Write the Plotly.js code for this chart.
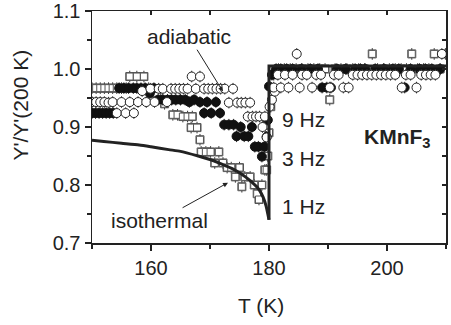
<!DOCTYPE html>
<html>
<head>
<meta charset="utf-8">
<script src="https://cdn.plot.ly/plotly-3.0.1.min.js"></script>
<style>
  html, body { margin: 0; padding: 0; background: #fff; }
  #chart { width: 451px; height: 325px; }
</style>
</head>
<body>
<div id="chart"></div>
<script>
// Normalised susceptibility Y'/Y'(200 K) of KMnF3 around the 180 K transition

// 9 Hz (open circles)
const circ9T = [150.0, 150.7, 151.4, 152.1, 152.8, 153.5, 154.2, 155.0, 155.7, 156.4, 157.1, 157.8,
  158.5, 159.2, 159.9, 160.6, 161.3, 162.0, 162.7, 163.4, 164.1, 164.8, 165.5, 166.2, 166.9, 167.6,
  168.3, 169.0, 169.7, 170.4, 171.1, 171.8, 172.5, 173.2, 173.9, 174.6, 175.3, 176.0, 176.4, 176.8,
  177.2, 177.8, 178.4, 178.9, 179.3, 179.6, 180.1, 180.5, 181.0,
  180.8, 181.5, 182.0, 182.7, 183.3, 184.0, 184.7, 185.2, 185.6, 186.4, 187.3, 188.0, 188.8, 190.3,
  191.0, 191.8, 192.6, 193.5, 194.2, 195.0, 195.8, 196.6, 197.4, 198.2, 199.0, 199.8, 200.6, 201.4,
  202.5, 203.2, 204.0, 205.0, 205.8, 206.6, 207.4, 208.2, 209.3];
const circ9Y = [0.943, 0.943, 0.943, 0.943, 0.942, 0.943, 0.924, 0.943, 0.924, 0.943, 0.924, 0.943,
  0.962, 0.943, 0.966, 0.943, 0.966, 0.966, 0.943, 0.966, 0.966, 0.966, 0.966, 0.966, 0.987, 0.966,
  0.987, 0.966, 0.966, 0.966, 0.966, 0.966, 0.966, 0.942, 0.966, 0.942, 0.942, 0.942, 0.918, 0.942,
  0.918, 0.918, 0.918, 0.900, 0.918, 0.882, 0.935, 0.947, 0.961,
  0.968, 0.990, 0.968, 0.990, 0.968, 0.990, 1.026, 0.968, 0.990, 0.990, 0.968, 0.990, 0.990, 0.968,
  0.990, 0.990, 0.968, 0.968, 0.990, 0.990, 0.990, 0.990, 0.990, 0.990, 0.990, 0.990, 0.990, 0.990,
  0.968, 0.990, 0.990, 0.968, 0.990, 0.990, 0.990, 0.990, 1.026];

// 3 Hz (filled circles)
const fill3T = [150.0, 150.6, 151.2, 151.8, 152.4, 153.0, 153.6, 154.6, 155.4, 156.2, 157.0, 157.6,
  158.3, 159.0, 159.8, 160.5, 161.2, 162.0, 162.8, 163.5, 164.2, 165.0, 165.8, 166.5, 167.3, 168.3,
  169.0, 169.5, 170.2, 171.0, 171.7, 172.4, 173.2, 174.0, 174.5, 175.2, 175.8, 176.5, 177.1, 177.6,
  178.2, 178.8, 179.2, 179.6, 179.8, 180.0,
  180.5, 181.2, 182.0, 183.0, 184.0, 185.5, 187.0, 188.3, 189.0, 189.8, 190.5, 191.5, 193.0, 194.6,
  195.5, 196.3, 198.0, 199.5, 201.0, 202.0, 203.0, 204.0, 205.5, 206.5, 207.6, 209.0];
const fill3Y = [0.924, 0.924, 0.924, 0.924, 0.924, 0.924, 0.924, 0.967, 0.967, 0.967, 0.967, 0.967,
  0.967, 0.967, 0.958, 0.967, 0.947, 0.947, 0.947, 0.947, 0.947, 0.947, 0.947, 0.943, 0.947, 0.943,
  0.924, 0.943, 0.924, 0.943, 0.924, 0.904, 0.904, 0.904, 0.884, 0.900, 0.884, 0.884, 0.900, 0.866,
  0.866, 0.849, 0.866, 0.883, 0.912, 0.970,
  0.990, 1.000, 1.000, 1.000, 1.000, 1.000, 1.000, 1.000, 0.968, 0.968, 0.968, 1.000, 1.000, 1.000,
  1.000, 1.000, 1.000, 1.000, 1.000, 1.000, 0.968, 1.000, 1.000, 1.000, 1.000, 1.000];

// 1 Hz (open squares)
const sq1T = [150.0, 150.7, 151.4, 152.1, 152.8, 153.5, 154.2, 155.0, 155.8, 156.4, 157.6, 158.8,
  159.6, 161.0, 162.3, 163.7, 164.5, 165.4, 166.2, 167.0, 166.8, 167.8, 168.3, 168.5, 169.3, 170.1,
  170.8, 171.5, 172.2, 172.9, 173.6, 174.3, 175.0, 175.4, 175.9, 176.8, 177.5, 178.0, 178.3, 178.8,
  179.3, 179.6, 179.8, 180.0, 180.3,
  180.8, 181.6, 182.6, 183.6, 184.6, 185.6, 186.6, 187.6, 188.6, 189.5, 190.3, 191.2, 192.2, 193.2,
  194.2, 195.2, 196.2, 197.5, 198.4, 199.4, 200.4, 201.4, 202.4, 203.3, 204.2, 205.2, 206.2, 207.1,
  208.0, 209.0, 209.9];
const sq1Y = [0.967, 0.967, 0.967, 0.967, 0.967, 0.967, 0.967, 0.967, 0.967, 0.987, 0.987, 0.987,
  0.967, 0.955, 0.940, 0.921, 0.921, 0.918, 0.918, 0.918, 0.899, 0.899, 0.878, 0.857, 0.857, 0.857,
  0.838, 0.857, 0.838, 0.830, 0.830, 0.814, 0.830, 0.797, 0.814, 0.814, 0.800, 0.785, 0.775, 0.800,
  0.826, 0.826, 0.850, 0.890, 0.935,
  0.990, 1.000, 1.000, 1.000, 1.000, 1.000, 1.000, 1.000, 1.000, 1.000, 0.947, 1.000, 1.000, 1.000,
  1.000, 1.000, 1.000, 1.026, 1.000, 1.000, 1.000, 1.000, 1.000, 1.000, 1.026, 1.000, 1.000, 1.000,
  1.026, 1.000, 1.026];

// isothermal curve below Tc
const isoT = [150, 152, 155, 158, 160, 163, 165, 168, 170, 172, 174, 175, 176, 177, 178, 178.5,
  179, 179.5, 179.8, 180];
const isoY = [0.877, 0.875, 0.872, 0.869, 0.866, 0.861, 0.858, 0.850, 0.844, 0.836, 0.827, 0.821,
  0.814, 0.806, 0.796, 0.789, 0.779, 0.764, 0.750, 0.740];

// adiabatic step at Tc and plateau above
const adiaT = [180, 180, 210];
const adiaY = [0.740, 1.005, 1.005];

const ink = '#222';
const font = 'Liberation Sans, Arial, sans-serif';

const bars = { type: 'constant', value: 0.01, thickness: 1, width: 0, color: '#333' };

const traces = [
  {
    x: sq1T, y: sq1Y, type: 'scatter', mode: 'markers', name: '1 Hz',
    marker: { symbol: 'square-open', size: 8, color: '#555', line: { width: 1 } },
    error_y: bars
  },
  {
    x: sq1T, y: sq1Y, type: 'scatter', mode: 'markers', hoverinfo: 'skip', showlegend: false,
    marker: { symbol: 'square', size: 7, color: '#fff', line: { width: 1, color: '#555' } }
  },
  {
    x: fill3T, y: fill3Y, type: 'scatter', mode: 'markers', name: '3 Hz',
    marker: { symbol: 'circle', size: 9, color: '#111', line: { width: 1, color: '#111' } },
    error_y: bars
  },
  {
    x: circ9T, y: circ9Y, type: 'scatter', mode: 'markers', name: '9 Hz',
    marker: { symbol: 'circle', size: 9, color: '#fff', line: { width: 1, color: '#222' } },
    error_y: bars
  },
  {
    x: isoT, y: isoY, type: 'scatter', mode: 'lines', name: 'isothermal',
    line: { color: ink, width: 3, shape: 'spline', smoothing: 0.6 }
  },
  {
    x: adiaT, y: adiaY, type: 'scatter', mode: 'lines', name: 'adiabatic',
    line: { color: ink, width: 3 }
  },
  // carrier for the mirrored top/right axes
  { x: [150], y: [0.7], xaxis: 'x2', yaxis: 'y2', type: 'scatter', mode: 'markers',
    marker: { opacity: 0 }, hoverinfo: 'skip', showlegend: false }
];

const tickFont = { family: font, size: 20, color: ink };
const annFont = { family: font, size: 21, color: ink };

const layout = {
  width: 451, height: 325,
  margin: { l: 92, r: 5, t: 11, b: 82 },
  paper_bgcolor: '#fff', plot_bgcolor: '#fff',
  showlegend: false,
  font: { family: font, color: ink },
  xaxis: {
    range: [150, 210], dtick: 20, tick0: 160,
    ticks: 'outside', ticklen: 6, tickwidth: 1.2, tickcolor: ink,
    minor: { dtick: 10, tick0: 150, ticks: 'outside', ticklen: 4, tickwidth: 1.2, tickcolor: ink },
    showline: true, linecolor: ink, linewidth: 1.5,
    showgrid: false, zeroline: false, tickfont: tickFont
  },
  yaxis: {
    range: [0.7, 1.1], dtick: 0.1, tick0: 0.7, tickformat: '.1f',
    ticks: 'outside', ticklen: 6, tickwidth: 1.2, tickcolor: ink,
    minor: { dtick: 0.05, ticks: 'outside', ticklen: 4, tickwidth: 1.2, tickcolor: ink },
    showline: true, linecolor: ink, linewidth: 1.5,
    showgrid: false, zeroline: false, tickfont: tickFont
  },
  xaxis2: {
    overlaying: 'x', side: 'top', range: [150, 210], dtick: 10, tick0: 150,
    ticks: 'inside', ticklen: 4, tickwidth: 1.2, tickcolor: ink,
    showline: true, linecolor: ink, linewidth: 1.5,
    showticklabels: false, showgrid: false, zeroline: false
  },
  yaxis2: {
    overlaying: 'y', side: 'right', range: [0.7, 1.1], dtick: 0.05, tick0: 0.7,
    ticks: 'inside', ticklen: 4, tickwidth: 1.2, tickcolor: ink,
    showline: true, linecolor: ink, linewidth: 1.5,
    showticklabels: false, showgrid: false, zeroline: false
  },
  annotations: [
    { xref: 'paper', yref: 'paper', x: 0.477, y: -0.268, text: 'T (K)', showarrow: false,
      xanchor: 'center', yanchor: 'middle', font: annFont },
    { xref: 'paper', yref: 'paper', x: -0.203, y: 0.593, text: "Y'/Y'(200 K)", showarrow: false,
      textangle: -90, xanchor: 'center', yanchor: 'middle', font: annFont },
    // labels with arrows pointing at the adiabatic data and the isothermal curve
    { x: 172.2, y: 0.961, ax: 166.44, ay: 1.0557, axref: 'x', ayref: 'y', text: 'adiabatic',
      showarrow: true, arrowhead: 2, arrowsize: 1, arrowwidth: 1, arrowcolor: ink, font: annFont },
    { x: 173.05, y: 0.804, ax: 161.36, ay: 0.7384, axref: 'x', ayref: 'y', text: 'isothermal',
      showarrow: true, arrowhead: 2, arrowsize: 1, arrowwidth: 1, arrowcolor: ink, font: annFont },
    { x: 181.86, y: 0.9126, text: '9 Hz', showarrow: false, xanchor: 'left', font: annFont },
    { x: 181.86, y: 0.8453, text: '3 Hz', showarrow: false, xanchor: 'left', font: annFont },
    { x: 181.86, y: 0.7626, text: '1 Hz', showarrow: false, xanchor: 'left', font: annFont },
    { x: 195.76, y: 0.8816, text: '<b>KMnF<sub>3</sub></b>', showarrow: false, xanchor: 'left',
      font: { family: font, size: 21, color: ink } }
  ]
};

Plotly.newPlot('chart', traces, layout, { staticPlot: true, displayModeBar: false });
</script>
</body>
</html>
